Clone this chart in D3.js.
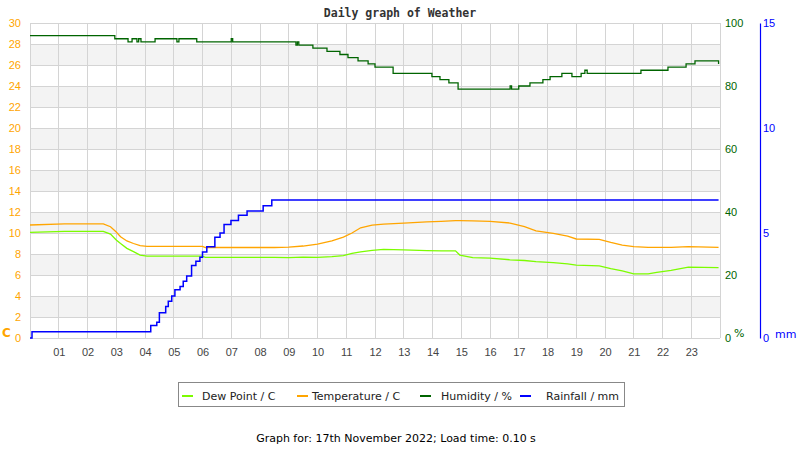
<!DOCTYPE html>
<html>
<head>
<meta charset="utf-8">
<script src="https://cdn.jsdelivr.net/npm/d3@7"></script>
<style>
  body { margin: 0; background: #ffffff; }
  svg { font-family: "DejaVu Sans", sans-serif; }
</style>
</head>
<body>
<div id="chart"></div>
<script>
// temperature and dew point, read at irregular hours
const hours = [0, 1.2, 2.55, 2.8, 3.0, 3.15, 3.37, 3.6, 3.83, 4.07, 6.0, 6.1, 8.5, 9.0, 9.5, 10.0, 10.5, 10.9, 11.2, 11.5, 11.9, 12.3, 13.0, 13.8, 14.3, 14.8, 14.95, 15.4, 16.0, 16.7, 17.2, 17.6, 18.2, 18.7, 19.0, 19.8, 20.2, 20.6, 21.0, 21.5, 21.8, 22.3, 22.9, 23.95];
const temperature = [10.76, 10.86, 10.86, 10.6, 10.1, 9.65, 9.24, 9.0, 8.8, 8.73, 8.73, 8.62, 8.62, 8.65, 8.76, 8.95, 9.25, 9.6, 10.0, 10.5, 10.75, 10.85, 10.95, 11.05, 11.1, 11.17, 11.17, 11.15, 11.1, 10.95, 10.6, 10.2, 9.97, 9.7, 9.43, 9.4, 9.1, 8.85, 8.7, 8.64, 8.64, 8.64, 8.7, 8.64];
const dewPoint = [10.06, 10.16, 10.16, 9.9, 9.33, 9.0, 8.54, 8.22, 7.9, 7.8, 7.8, 7.68, 7.68, 7.65, 7.7, 7.68, 7.75, 7.85, 8.05, 8.2, 8.35, 8.44, 8.4, 8.32, 8.3, 8.3, 7.9, 7.65, 7.6, 7.45, 7.38, 7.27, 7.17, 7.05, 6.95, 6.86, 6.6, 6.4, 6.1, 6.1, 6.26, 6.45, 6.75, 6.7];

// humidity steps
const humHours = [0, 2.95, 3.41, 3.55, 3.72, 3.78, 3.86, 4.35, 5.11, 5.18, 5.8, 7.0, 7.05, 9.25, 9.3, 9.35, 9.84, 10.33, 10.78, 11.06, 11.41, 11.76, 12.0, 12.63, 13.98, 14.26, 14.57, 14.89, 16.7, 16.75, 17.0, 17.39, 17.84, 18.09, 18.5, 18.85, 19.17, 19.3, 19.38, 21.25, 22.19, 22.82, 23.13, 23.95];
const humidity = [96, 95, 94, 95, 94, 95, 94, 95, 94, 95, 94, 95, 94, 93, 94, 93, 92, 91, 90, 89, 88, 87, 86, 84, 83, 82, 81, 79, 80, 79, 80, 81, 82, 83, 84, 83, 84, 85, 84, 85, 86, 87, 88, 87];

// rainfall steps (cumulative mm)
const rainHours = [0, 0.07, 4.2, 4.41, 4.5, 4.72, 4.81, 4.93, 5.04, 5.22, 5.33, 5.45, 5.62, 5.77, 5.91, 6.0, 6.15, 6.43, 6.61, 6.75, 6.99, 7.25, 7.55, 8.11, 8.41, 23.95];
const rainfall = [0, 0.3, 0.6, 0.75, 1.2, 1.5, 1.75, 2.0, 2.3, 2.45, 2.7, 2.95, 3.45, 3.65, 3.85, 4.1, 4.35, 4.8, 5.0, 5.4, 5.6, 5.85, 6.05, 6.3, 6.57, 6.57];

const hourLabels = ['01','02','03','04','05','06','07','08','09','10','11','12','13','14','15','16','17','18','19','20','21','22','23'];
const tempTicks = [0, 2, 4, 6, 8, 10, 12, 14, 16, 18, 20, 22, 24, 26, 28, 30];
const humTicks = [0, 20, 40, 60, 80, 100];
const rainTicks = [0, 5, 10, 15];

const legendItems = [
  { label: 'Dew Point / C', color: '#7cfc00' },
  { label: 'Temperature / C', color: '#ffa500' },
  { label: 'Humidity / %', color: '#006400' },
  { label: 'Rainfall / mm', color: '#0000ff' }
];

const W = 800, H = 450;
const plot = { left: 30, right: 720, top: 23, bottom: 338 };

const svg = d3.select('#chart')
  .append('svg')
  .attr('width', W)
  .attr('height', H);

const x = d3.scaleLinear().domain([0, 24]).range([plot.left, plot.right]);
const yT = d3.scaleLinear().domain([0, 30]).range([plot.bottom, plot.top]);
const yH = d3.scaleLinear().domain([0, 100]).range([plot.bottom, plot.top]);
const yR = d3.scaleLinear().domain([0, 15]).range([plot.bottom, plot.top]);

// title
svg.append('text')
  .attr('x', 400).attr('y', 17)
  .attr('text-anchor', 'middle')
  .style('font-family', '"DejaVu Sans Mono", monospace')
  .style('font-weight', 'bold')
  .style('font-size', '11.5px')
  .attr('fill', '#333')
  .text('Daily graph of Weather');

// alternating bands
svg.append('g')
  .selectAll('rect')
  .data(tempTicks.filter(t => t < 30 && (t / 2) % 2 === 1))
  .enter()
  .append('rect')
  .attr('x', plot.left)
  .attr('width', plot.right - plot.left)
  .attr('y', d => yT(d + 2))
  .attr('height', d => yT(d) - yT(d + 2))
  .attr('fill', '#f3f3f3');

// grid
const grid = svg.append('g').attr('stroke', '#d4d4d4').attr('stroke-width', 1).attr('shape-rendering', 'crispEdges');
grid.selectAll('.h')
  .data(tempTicks)
  .enter().append('line')
  .attr('x1', plot.left).attr('x2', plot.right)
  .attr('y1', d => yT(d)).attr('y2', d => yT(d));
grid.selectAll('.v')
  .data(d3.range(0, 25))
  .enter().append('line')
  .attr('x1', d => x(d)).attr('x2', d => x(d))
  .attr('y1', plot.top).attr('y2', plot.bottom);

// axes
const leftAxis = svg.append('g')
  .attr('transform', `translate(${plot.left},0)`)
  .call(d3.axisLeft(yT).tickValues(tempTicks).tickSize(0).tickPadding(9));
leftAxis.select('.domain').remove();
leftAxis.selectAll('text').attr('fill', '#ffa500').style('font-size', '11px');

const humAxis = svg.append('g')
  .attr('transform', `translate(${plot.right},0)`)
  .call(d3.axisRight(yH).tickValues(humTicks).tickSize(0).tickPadding(5));
humAxis.select('.domain').remove();
humAxis.selectAll('text').attr('fill', '#006400').style('font-size', '11px');

const rainAxis = svg.append('g')
  .attr('transform', 'translate(760,0)')
  .call(d3.axisRight(yR).tickValues(rainTicks).tickSizeInner(0).tickSizeOuter(0).tickPadding(3));
rainAxis.select('.domain').attr('stroke', '#0000ff').attr('stroke-width', 1.2);
rainAxis.selectAll('text').attr('fill', '#0000ff').style('font-size', '11px');

const bottomAxis = svg.append('g')
  .attr('transform', `translate(0,${plot.bottom})`)
  .call(d3.axisBottom(x).tickValues(d3.range(1, 24)).tickFormat((d, i) => hourLabels[i]).tickSize(0).tickPadding(10));
bottomAxis.select('.domain').remove();
bottomAxis.selectAll('text').attr('fill', '#444').style('font-size', '11px');

// unit labels
svg.append('text').attr('x', 2).attr('y', 337).attr('fill', '#ffa500')
  .style('font-size', '12px').style('font-weight', 'bold').text('C');
svg.append('text').attr('x', 734).attr('y', 337).attr('fill', '#006400')
  .style('font-size', '11px').text('%');
svg.append('text').attr('x', 775).attr('y', 338).attr('fill', '#0000ff')
  .style('font-size', '11px').text('mm');

// series
const lineT = d3.line().x((d, i) => x(hours[i])).y(d => yT(d));
svg.append('path').datum(dewPoint)
  .attr('d', lineT).attr('fill', 'none').attr('stroke', '#7cfc00').attr('stroke-width', 1.3);
svg.append('path').datum(temperature)
  .attr('d', lineT).attr('fill', 'none').attr('stroke', '#ffa500').attr('stroke-width', 1.3);

const lineH = d3.line().x((d, i) => x(humHours[i])).y(d => yH(d)).curve(d3.curveStepAfter);
svg.append('path').datum(humidity)
  .attr('d', lineH).attr('fill', 'none').attr('stroke', '#006400').attr('stroke-width', 1.3);

const lineR = d3.line().x((d, i) => x(rainHours[i])).y(d => yR(d)).curve(d3.curveStepAfter);
svg.append('path').datum(rainfall)
  .attr('d', lineR).attr('fill', 'none').attr('stroke', '#0000ff').attr('stroke-width', 1.5);

// legend
const legend = svg.append('g');
legend.append('rect')
  .attr('x', 178.5).attr('y', 382.5).attr('width', 446).attr('height', 24)
  .attr('fill', '#fff').attr('stroke', '#888').attr('stroke-width', 1);
const legX = [182, 297, 420, 520];
const legTextX = [202, 312, 441, 546];
const items = legend.selectAll('.item')
  .data(legendItems)
  .enter().append('g');
items.append('line')
  .attr('x1', (d, i) => legX[i]).attr('x2', (d, i) => legX[i] + 11)
  .attr('y1', 396).attr('y2', 396)
  .attr('stroke', d => d.color).attr('stroke-width', 2);
items.append('text')
  .attr('x', (d, i) => legTextX[i]).attr('y', 400)
  .attr('fill', '#222')
  .style('font-size', '11px')
  .text(d => d.label);

// footer
svg.append('text')
  .attr('x', 396).attr('y', 442)
  .attr('text-anchor', 'middle')
  .attr('fill', '#000')
  .style('font-size', '11px')
  .text('Graph for: 17th November 2022; Load time: 0.10 s');
</script>
</body>
</html>
